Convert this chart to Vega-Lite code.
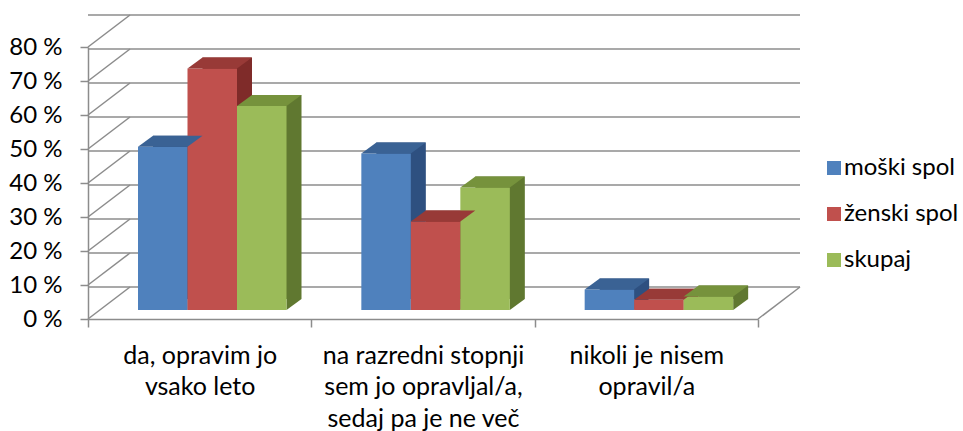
{
  "$schema": "https://vega.github.io/schema/vega-lite/v6.json",
  "width": 670,
  "height": 272,
  "autosize": {"type": "none"},
  "padding": {"left": 88, "top": 47, "right": 205, "bottom": 112},
  "background": "white",
  "config": {
    "view": {"stroke": null},
    "font": "Lato",
    "axis": {"labelFont": "Lato", "labelColor": "#000000", "labelFontSize": 24, "domainColor": "#8c8c8c", "tickColor": "#8c8c8c", "domainWidth": 1.5, "tickWidth": 1.5, "tickSize": 8, "grid": false, "title": null, "labelOverlap": false, "labelLimit": 400},
    "axisY": {"labelOverlap": false},
    "axisQuantitative": {"labelOverlap": false},
    "legend": {"labelFont": "Lato", "labelFontSize": 24, "labelColor": "#000000", "labelLimit": 300}
  },
  "datasets": {
    "answers": [
      {"odgovor": "da, opravim jo\nvsako leto", "spol": "moški spol", "delez": 48},
      {"odgovor": "da, opravim jo\nvsako leto", "spol": "ženski spol", "delez": 71},
      {"odgovor": "da, opravim jo\nvsako leto", "spol": "skupaj", "delez": 60},
      {"odgovor": "na razredni stopnji\nsem jo opravljal/a,\nsedaj pa je ne več", "spol": "moški spol", "delez": 46},
      {"odgovor": "na razredni stopnji\nsem jo opravljal/a,\nsedaj pa je ne več", "spol": "ženski spol", "delez": 26},
      {"odgovor": "na razredni stopnji\nsem jo opravljal/a,\nsedaj pa je ne več", "spol": "skupaj", "delez": 36},
      {"odgovor": "nikoli je nisem\nopravil/a", "spol": "moški spol", "delez": 6},
      {"odgovor": "nikoli je nisem\nopravil/a", "spol": "ženski spol", "delez": 3},
      {"odgovor": "nikoli je nisem\nopravil/a", "spol": "skupaj", "delez": 4}
    ],
    "grid": [{"g": 0}, {"g": 10}, {"g": 20}, {"g": 30}, {"g": 40}, {"g": 50}, {"g": 60}, {"g": 70}, {"g": 80}]
  },
  "layer": [
    {
      "data": {"name": "grid"},
      "mark": {"type": "rule", "color": "#8c8c8c", "strokeWidth": 1.5, "xOffset": 42, "x2Offset": 42, "yOffset": -32, "y2Offset": -32},
      "encoding": {
        "y": {"field": "g", "type": "quantitative", "scale": {"domain": [0, 80], "nice": false, "zero": true},
          "axis": {"values": [0, 10, 20, 30, 40, 50, 60, 70, 80], "tickCount": 9, "labelExpr": "datum.value + ' %'", "labelPadding": 18, "domain": true, "labelOverlap": false, "labelBound": false}}
      }
    },
    {
      "data": {"name": "grid"},
      "mark": {"type": "point", "shape": "M0,0L42,-32", "size": 4, "filled": false, "stroke": "#8c8c8c", "strokeWidth": 1.5, "opacity": 1},
      "encoding": {
        "x": {"value": 0},
        "y": {"field": "g", "type": "quantitative",
          "axis": {"values": [0, 10, 20, 30, 40, 50, 60, 70, 80], "tickCount": 9, "labelExpr": "datum.value + ' %'", "labelPadding": 18, "domain": true, "labelOverlap": false, "labelBound": false}}
      }
    },
    {
      "data": {"values": [{"g": 0}]},
      "mark": {"type": "point", "shape": "M0,0L42,-32", "size": 4, "filled": false, "stroke": "#8c8c8c", "strokeWidth": 1.5, "opacity": 1},
      "encoding": {
        "x": {"value": {"expr": "width"}},
        "y": {"field": "g", "type": "quantitative",
          "axis": {"values": [0, 10, 20, 30, 40, 50, 60, 70, 80], "tickCount": 9, "labelExpr": "datum.value + ' %'", "labelPadding": 18, "domain": true, "labelOverlap": false, "labelBound": false}}
      }
    },
    {
      "data": {"name": "answers"},
      "mark": {"type": "bar", "yOffset": -20, "y2Offset": -20},
      "encoding": {
        "x": {"field": "odgovor", "type": "nominal", "sort": null, "scale": {"paddingInner": 0, "paddingOuter": 0, "round": false},
          "axis": {"labelAngle": 0, "tickBand": "extent", "labelExpr": "split(datum.label, '\\n')", "labelLineHeight": 31.5, "labelPadding": 16, "labelBaseline": "top", "labelFontSize": 25, "labelLimit": 400}},
        "xOffset": {"field": "spol", "type": "nominal", "scale": {"type": "band", "domain": ["moški spol", "ženski spol", "skupaj"], "paddingInner": 0, "paddingOuter": 0.7559, "align": 0.8686, "round": false}},
        "y": {"field": "delez", "type": "quantitative",
          "axis": {"values": [0, 10, 20, 30, 40, 50, 60, 70, 80], "tickCount": 9, "labelExpr": "datum.value + ' %'", "labelPadding": 18, "domain": true, "labelOverlap": false, "labelBound": false}},
        "color": {"field": "spol", "type": "nominal", "scale": {"domain": ["moški spol", "ženski spol", "skupaj"], "range": ["#2e5080", "#7f2b29", "#607830"]}, "legend": null}
      }
    },
    {
      "data": {"name": "answers"},
      "mark": {"type": "point", "shape": "M24.75,-9L24.75,-20L39.75,-20Z", "size": 4, "filled": true, "opacity": 1, "strokeWidth": 0},
      "encoding": {
        "x": {"field": "odgovor", "type": "nominal", "sort": null},
        "xOffset": {"field": "spol", "type": "nominal", "scale": {"type": "band", "domain": ["moški spol", "ženski spol", "skupaj"], "paddingInner": 0, "paddingOuter": 0.7559, "align": 0.6682, "round": false}},
        "y": {"datum": 0},
        "color": {"field": "spol", "type": "nominal", "scale": {"domain": ["moški spol", "ženski spol", "skupaj"], "range": ["#2e5080", "#7f2b29", "#607830"]}, "legend": null}
      }
    },
    {
      "data": {"name": "answers"},
      "mark": {"type": "bar", "yOffset": -9, "y2Offset": -9},
      "encoding": {
        "x": {"field": "odgovor", "type": "nominal", "sort": null},
        "xOffset": {"field": "spol", "type": "nominal", "scale": {"type": "band", "domain": ["moški spol", "ženski spol", "skupaj"], "paddingInner": 0, "paddingOuter": 0.7559, "align": 0.6682, "round": false}},
        "y": {"field": "delez", "type": "quantitative",
          "axis": {"values": [0, 10, 20, 30, 40, 50, 60, 70, 80], "tickCount": 9, "labelExpr": "datum.value + ' %'", "labelPadding": 18, "domain": true, "labelOverlap": false, "labelBound": false}},
        "color": {"field": "spol", "type": "nominal", "scale": {"domain": ["moški spol", "ženski spol", "skupaj"], "range": ["#4f81bd", "#c0504d", "#9bbb59"]},
          "legend": {"title": null, "orient": "none", "legendX": 734, "legendY": 109, "padding": 0, "symbolType": "square", "symbolSize": 196, "symbolStrokeWidth": 0, "rowPadding": 22, "labelOffset": -2}}
      }
    },
    {
      "data": {"name": "answers"},
      "mark": {"type": "point", "shape": "M-24.75,-9L24.75,-9L39.75,-20L-9.75,-20Z", "size": 4, "filled": true, "opacity": 1, "strokeWidth": 0},
      "encoding": {
        "x": {"field": "odgovor", "type": "nominal", "sort": null},
        "xOffset": {"field": "spol", "type": "nominal", "scale": {"type": "band", "domain": ["moški spol", "ženski spol", "skupaj"], "paddingInner": 0, "paddingOuter": 0.7559, "align": 0.6682, "round": false}},
        "y": {"field": "delez", "type": "quantitative"},
        "color": {"field": "spol", "type": "nominal", "scale": {"domain": ["moški spol", "ženski spol", "skupaj"], "range": ["#3a6294", "#983a37", "#76923c"]}, "legend": null}
      }
    }
  ],
  "resolve": {"scale": {"color": "independent", "xOffset": "independent"}}
}
